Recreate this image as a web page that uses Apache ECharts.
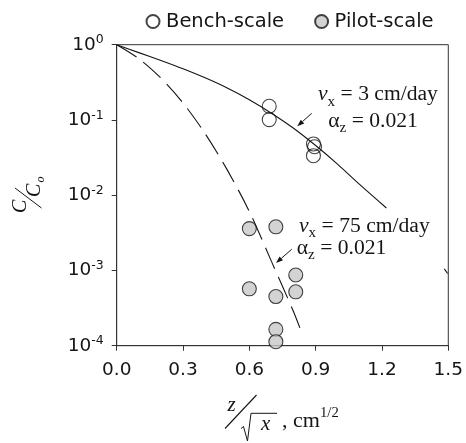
<!DOCTYPE html>
<html>
<head>
<meta charset="utf-8">
<script src="https://cdn.jsdelivr.net/npm/echarts@6/dist/echarts.min.js"></script>
<style>
  html, body { margin: 0; padding: 0; background: #fff; }
  #chart { width: 466px; height: 443px; }
</style>
</head>
<body>
<div id="chart"></div>
<script>
// Normalised depth z/sqrt(x) (cm^1/2) against relative concentration C/Co
const benchX = [0.69, 0.69, 0.89, 0.895, 0.89];
const benchC = [0.152, 0.101, 0.048, 0.044, 0.0335];
const pilotX = [0.60, 0.72, 0.81, 0.81, 0.60, 0.72, 0.72, 0.72];
const pilotC = [0.0036, 0.0038, 0.00087, 0.00052, 0.00057, 0.00045, 0.000165, 0.000113];

// Model curves: vx = 3 cm/day (solid) and vx = 75 cm/day (dashed), alpha_z = 0.021
const slowX = [0, 0.1, 0.2, 0.3, 0.4, 0.5, 0.6, 0.7, 0.8, 0.9, 1.0, 1.1, 1.22];
const slowC = [1, 0.785, 0.617, 0.479, 0.363, 0.266, 0.186, 0.123, 0.0776, 0.0457, 0.0257, 0.0138, 0.00676];
const slowTailX = [1.482, 1.497];
const slowTailC = [0.00105, 0.00091];
const fastX = [0, 0.1, 0.2, 0.3, 0.4, 0.5, 0.6, 0.7, 0.8, 0.842];
const fastC = [1, 0.653, 0.36, 0.168, 0.0658, 0.0217, 0.00608, 0.00132, 0.000282, 0.000136];

// Axis ranges
const xMin = 0, xMax = 1.5, xStep = 0.3;
const yMin = 1e-4, yMax = 1;

const INK = '#151515';
const SANS = '"DejaVu Sans"';
const SERIF = '"Liberation Serif"';
const MID = 0.3375; // distance from em-middle to baseline, in em

const zip = (xs, ys) => xs.map((x, i) => [x, ys[i]]);

const meas = document.createElement('canvas').getContext('2d');
// a run of text pieces laid out on one baseline (with sub/superscript shifts)
function run(parts, x0, base, sx) {
  let cx = 0;
  const children = parts.map(p => {
    const font = (p.it ? 'italic ' : '') + p.size + 'px ' + SERIF;
    meas.font = font;
    const el = {
      type: 'text', x: cx, y: (p.dy || 0) - MID * p.size,
      style: { text: p.t, font: font, fill: INK, align: 'left', verticalAlign: 'middle' }
    };
    cx += meas.measureText(p.t).width;
    return el;
  });
  return { type: 'group', x: x0, y: base, scaleX: sx || 1, children };
}

function arrow(x1, y1, x2, y2) {
  const a = Math.atan2(y2 - y1, x2 - x1), L = 7, W = 2.6;
  const bx = x2 - L * Math.cos(a), by = y2 - L * Math.sin(a);
  const px = -Math.sin(a) * W, py = Math.cos(a) * W;
  return [
    { type: 'line', shape: { x1, y1, x2: bx, y2: by }, style: { stroke: INK, lineWidth: 1 } },
    { type: 'polygon', shape: { points: [[x2, y2], [bx + px, by + py], [bx - px, by - py]] }, style: { fill: INK } }
  ];
}

const S = 1.08;
const graphics = [
  run([{ t: 'v', size: 20, it: true }, { t: 'x', size: 14, dy: 5 }, { t: ' = 3 cm/day', size: 20 }], 318, 101.7, S),
  run([{ t: 'α', size: 20 }, { t: 'z', size: 14, dy: 5 }, { t: ' = 0.021', size: 20 }], 328.3, 128.3, S),
  run([{ t: 'v', size: 20, it: true }, { t: 'x', size: 14, dy: 5 }, { t: ' = 75 cm/day', size: 20 }], 299, 233.3, S),
  run([{ t: 'α', size: 20 }, { t: 'z', size: 14, dy: 5 }, { t: ' = 0.021', size: 20 }], 296.7, 255, S),
  ...arrow(311.7, 113.3, 297.3, 126.3),
  ...arrow(291.7, 249.3, 276, 263),
  // x-axis title: z / sqrt(x), cm^1/2
  run([{ t: 'z', size: 21, it: true }], 227.5, 413, 1),
  { type: 'line', shape: { x1: 225, y1: 428.5, x2: 256.5, y2: 395 }, style: { stroke: INK, lineWidth: 1.1 } },
  { type: 'polyline', shape: { points: [[241, 428.5], [243.5, 426.5], [247.5, 441], [251, 413.3], [277, 413.3]] },
    style: { stroke: INK, lineWidth: 1, fill: null } },
  run([{ t: 'x', size: 21, it: true }], 261, 432, 1),
  run([{ t: ', cm', size: 21 }, { t: '1/2', size: 14, dy: -10 }], 282, 428.5, 1.05),
  // y-axis title: C / Co, reading upwards
  {
    type: 'group', x: 27, y: 213, rotation: Math.PI / 2,
    children: [
      run([{ t: 'C', size: 20, it: true }], 0, 0, 1),
      { type: 'line', shape: { x1: 5, y1: 14.5, x2: 25, y2: -12 }, style: { stroke: INK, lineWidth: 1 } },
      run([{ t: 'C', size: 20, it: true }], 16, 14.7, 1),
      run([{ t: 'o', size: 12, it: true }], 30.5, 18, 1)
    ]
  }
];

const chart = echarts.init(document.getElementById('chart'), null, { renderer: 'canvas' });
chart.setOption({
  animation: false,
  backgroundColor: '#fff',
  grid: { left: 116.7, right: 16.7, top: 44.7, bottom: 97.3, show: true, borderColor: '#333', borderWidth: 1 },
  legend: {
    left: 145.5, top: 11.5, padding: 0, itemWidth: 16, itemHeight: 13, itemGap: 30,
    icon: 'circle', data: ['Bench-scale', 'Pilot-scale'],
    textStyle: { fontFamily: SANS, fontSize: 19.5, color: INK }
  },
  xAxis: {
    type: 'value', min: xMin, max: xMax, interval: xStep,
    axisLine: { lineStyle: { color: '#333', width: 1 } },
    axisTick: { length: 5, lineStyle: { color: '#333' } },
    splitLine: { show: false },
    axisLabel: { margin: 15, color: INK, fontFamily: SANS, fontSize: 18.5, formatter: v => v.toFixed(1) }
  },
  yAxis: {
    type: 'log', logBase: 10, min: yMin, max: yMax,
    axisLine: { show: true, lineStyle: { color: '#333', width: 1 } },
    axisTick: { show: true, length: 5, lineStyle: { color: '#333' } },
    splitLine: { show: false },
    minorTick: { show: false },
    axisLabel: {
      margin: 13, color: INK,
      formatter: v => '{b|10}{s|' + Math.round(Math.log10(v)) + '}',
      rich: {
        b: { fontFamily: SANS, fontSize: 18.5, lineHeight: 22, color: INK },
        s: { fontFamily: SANS, fontSize: 12.5, lineHeight: 12, verticalAlign: 'top', color: INK }
      }
    }
  },
  series: [
    {
      name: 'Bench-scale', type: 'scatter', data: zip(benchX, benchC), symbol: 'circle', symbolSize: 14,
      itemStyle: { color: 'rgba(255,255,255,0)', borderColor: INK, borderWidth: 1.1 }, z: 3
    },
    {
      name: 'Pilot-scale', type: 'scatter', data: zip(pilotX, pilotC), symbol: 'circle', symbolSize: 14,
      itemStyle: { color: '#c8c8c8', borderColor: INK, borderWidth: 1.1 }, z: 3
    },
    {
      name: 'vx 3', type: 'line', data: zip(slowX, slowC), showSymbol: false, smooth: 0.3,
      lineStyle: { color: INK, width: 1.1 }, z: 4
    },
    {
      name: 'vx 3 tail', type: 'line', data: zip(slowTailX, slowTailC), showSymbol: false,
      lineStyle: { color: INK, width: 1.1 }, z: 4
    },
    {
      name: 'vx 75', type: 'line', data: zip(fastX, fastC), showSymbol: false, smooth: 0.3,
      lineStyle: { color: INK, width: 1.1, type: [23, 9] }, z: 4
    }
  ],
  graphic: graphics
});
</script>
</body>
</html>
